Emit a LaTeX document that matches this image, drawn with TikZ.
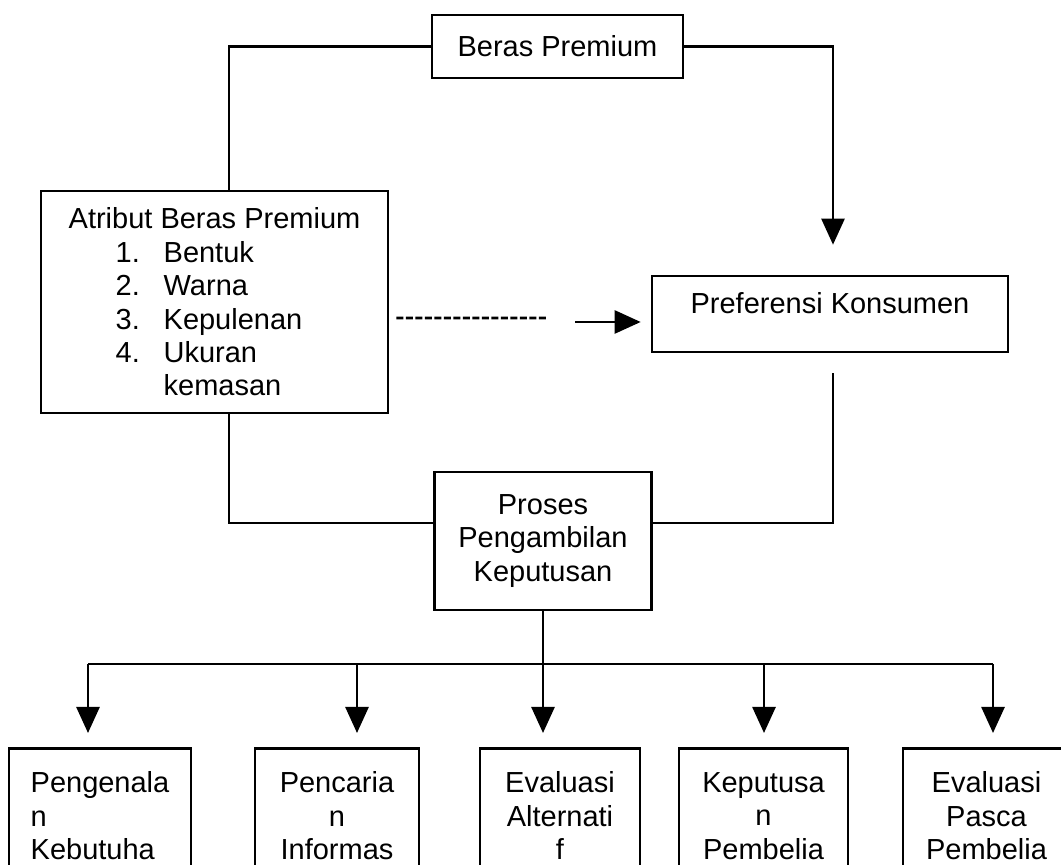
\documentclass[tikz,border=0pt]{standalone}
\usepackage{fontspec}
\setmainfont{Liberation Sans}
\usepackage{tikz}
\usetikzlibrary{arrows.meta}

\tikzset{
    kotak/.style={draw, line width=1.5pt, align=center, inner sep=2pt},
    garis/.style={line width=1.5pt},
    panah/.style={line width=1.5pt, -{Triangle[length=0.52cm,width=0.46cm]}},
    putus/.style={line width=1.5pt, dash pattern=on 0.14cm off 0.05cm}
}

\begin{document}
\begin{tikzpicture}[font=\fontsize{16.5}{19}\selectfont]
    \useasboundingbox (0,0) rectangle (21.22,17.3);
    \clip (0,0) rectangle (21.22,17.3);

    % kotak utama
    \node[kotak, minimum width=5.02cm, minimum height=1.26cm] (beras) at (11.15,16.37) {Beras Premium};
    \node[kotak, align=left, minimum width=6.94cm, minimum height=4.44cm] (atribut) at (4.29,11.26) {
        Atribut Beras Premium\\
        \hspace*{0.94cm}\makebox[0.96cm][l]{1.}Bentuk\\
        \hspace*{0.94cm}\makebox[0.96cm][l]{2.}Warna\\
        \hspace*{0.94cm}\makebox[0.96cm][l]{3.}Kepulenan\\
        \hspace*{0.94cm}\makebox[0.96cm][l]{4.}Ukuran\\
        \hspace*{1.9cm}kemasan
    };
    \node[kotak, minimum width=7.12cm, minimum height=1.52cm, text depth=0.45cm] (prefer) at (16.6,11.02) {Preferensi Konsumen};
    \node[kotak, minimum width=4.34cm, minimum height=2.76cm] (proses) at (10.86,6.48) {Proses\\Pengambilan\\Keputusan};

    % tahap keputusan
    \node[kotak, anchor=north, align=left, minimum width=3.64cm, minimum height=2.7cm] (kenal) at (2.0,2.36) {Pengenala\\n\\Kebutuha};
    \node[kotak, anchor=north, minimum width=3.28cm, minimum height=2.7cm] (cari) at (6.74,2.36) {Pencaria\\n\\Informas};
    \node[kotak, anchor=north, minimum width=3.2cm, minimum height=2.7cm] (evalalt) at (11.2,2.36) {Evaluasi\\Alternati\\f};
    \node[kotak, anchor=north, minimum width=3.38cm, minimum height=2.7cm] (putus) at (15.27,2.36) {Keputusa\\n\\Pembelia};
    \node[kotak, anchor=north, minimum width=3.34cm, minimum height=2.7cm] (pasca) at (19.73,2.36) {Evaluasi\\Pasca\\Pembelia};

    % titik bantu
    \coordinate (dashend) at (10.92,10.94);
    \coordinate (arrstart) at (11.5,10.86);
    \coordinate (b1) at (1.76,4.02);
    \coordinate (b2) at (7.14,4.02);
    \coordinate (b3) at (10.86,4.02);
    \coordinate (b4) at (15.28,4.02);
    \coordinate (b5) at (19.86,4.02);

    % garis penghubung
    \draw[garis] (beras.west) -| ([xshift=0.29cm]atribut.north);
    \draw[panah, shorten >=0.6cm] (beras.east) -| ([xshift=0.06cm]prefer.north);
    \draw[putus] ([xshift=0.14cm,yshift=-0.32cm]atribut.east) -- (dashend);
    \draw[panah] (arrstart) -- ([xshift=-0.2cm,yshift=-0.16cm]prefer.west);
    \draw[garis] ([xshift=0.29cm]atribut.south) |- ([yshift=0.36cm]proses.west);
    \draw[garis] ([xshift=0.06cm,yshift=-0.4cm]prefer.south) |- ([yshift=0.36cm]proses.east);
    \draw[garis] (proses.south) -- (b3);
    \draw[garis] (b1) -- (b5);
    \draw[panah, shorten >=0.28cm] (b1) -- (b1 |- kenal.north);
    \draw[panah, shorten >=0.28cm] (b2) -- (b2 |- cari.north);
    \draw[panah, shorten >=0.28cm] (b3) -- (b3 |- evalalt.north);
    \draw[panah, shorten >=0.28cm] (b4) -- (b4 |- putus.north);
    \draw[panah, shorten >=0.28cm] (b5) -- (b5 |- pasca.north);
\end{tikzpicture}
\end{document}
